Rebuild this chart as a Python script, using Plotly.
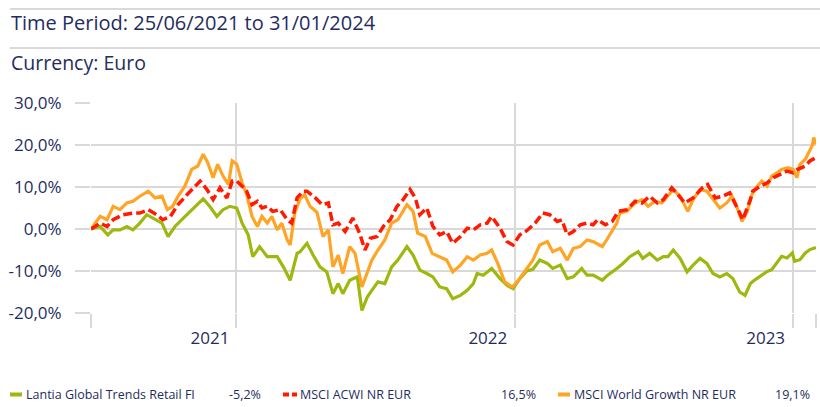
import pandas as pd
import plotly.graph_objects as go

START = "2021-06-25"

# ---- data (day offsets from start, cumulative return in %) ----
green_days = [0, 12, 22, 29, 38, 47, 55, 64, 73, 86, 93, 101, 110, 121, 134, 147, 156, 165, 173, 182,
              191, 198, 206, 212, 221, 231, 244, 252, 261, 270, 274, 283, 291, 300, 309, 317, 324, 330, 339, 349,
              355, 362, 368, 376, 385, 394, 402, 414, 422, 431, 440, 448, 457, 466, 474, 484, 493, 501, 506, 514,
              525, 536, 545, 553, 562, 571, 579, 588, 598, 605, 615, 624, 632, 643, 650, 658, 670, 677, 689, 697,
              706, 717, 723, 732, 742, 750, 756, 763, 772, 781, 789, 798, 807, 815, 824, 833, 841, 850, 857, 864,
              870, 879, 886, 892, 899, 905, 912, 919, 922, 929, 936, 942, 950]
green_vals = [0, 0.6, -1.4, -0.2, -0.2, 0.6, -0.2, 1.4, 3.4, 2.2, 1.4, -1.8, 0.6, 2.6, 5.0, 7.2, 5.3, 3.0, 4.6, 5.4,
              5.0, 1.4, -1.4, -6.6, -4.2, -6.6, -6.6, -9.0, -12.2, -5.8, -5.4, -3.4, -6.2, -9.0, -10.2, -15.4, -13.0, -15.4, -12.2, -11.4,
              -19.4, -16.2, -14.6, -12.6, -13.0, -9.0, -7.4, -4.2, -6.2, -9.8, -10.6, -11.4, -13.8, -14.2, -16.6, -15.8, -14.6, -13.0, -10.6, -11.0,
              -9.4, -11.8, -13.4, -14.2, -11.8, -10.0, -9.6, -7.4, -8.2, -9.4, -8.6, -11.8, -11.4, -9.4, -11.0, -11.0, -12.2, -11.0, -9.4, -8.2,
              -6.6, -5.4, -7.0, -5.8, -7.4, -6.6, -6.6, -5.0, -7.0, -10.2, -8.6, -7.0, -8.2, -10.6, -11.4, -10.6, -11.8, -15.0, -15.8, -13.0,
              -12.1, -10.9, -10.1, -9.7, -8.1, -6.5, -6.9, -5.7, -7.7, -7.3, -5.7, -4.9, -4.4]

orange_days = [0, 12, 21, 29, 38, 47, 55, 64, 75, 84, 93, 100, 107, 114, 123, 132, 140, 147, 153, 160,
               166, 173, 180, 185, 191, 198, 204, 211, 218, 224, 231, 237, 244, 250, 257, 261, 267, 274, 280, 287,
               296, 304, 311, 317, 324, 330, 339, 346, 355, 362, 368, 376, 385, 394, 402, 414, 422, 428, 438, 447,
               457, 466, 474, 484, 493, 501, 510, 519, 525, 533, 542, 552, 560, 565, 571, 579, 588, 598, 605, 615,
               624, 632, 641, 650, 658, 670, 677, 689, 693, 702, 713, 722, 730, 739, 748, 756, 763, 772, 782, 789,
               798, 807, 815, 824, 833, 840, 846, 853, 860, 866, 873, 879, 886, 892, 899, 905, 913, 920, 925, 929,
               936, 940, 945, 947, 950]
orange_vals = [0, 3.0, 2.2, 5.4, 4.6, 6.2, 6.6, 7.8, 9.0, 7.4, 7.8, 4.6, 5.4, 7.8, 10.2, 14.2, 15.0, 17.8, 15.8, 12.2,
               15.4, 12.6, 10.6, 16.2, 15.4, 11.0, 8.2, 3.0, 0.6, 3.0, 1.4, 3.0, -0.2, 1.4, -2.6, -3.8, 3.8, 7.2, 8.2, 5.4,
               4.0, -1.8, -0.2, -9.0, -6.2, -10.6, -4.2, -5.8, -13.8, -10.6, -7.4, -5.0, -2.6, 1.4, 2.2, 5.8, 4.2, -1.0, -1.8, -5.8,
               -6.6, -7.4, -10.2, -8.6, -6.6, -7.4, -6.2, -5.8, -5.0, -8.2, -12.6, -13.8, -12.2, -11.0, -9.4, -7.4, -3.8, -3.0, -5.4, -4.6,
               -7.4, -4.6, -4.2, -2.6, -3.0, -4.2, -2.2, 1.4, 3.8, 4.2, 6.2, 7.0, 5.4, 6.6, 6.2, 7.8, 9.4, 7.8, 4.2, 7.0,
               9.4, 9.0, 7.0, 5.0, 6.2, 7.8, 5.4, 1.8, 4.2, 8.2, 10.2, 11.4, 10.2, 12.6, 13.4, 14.2, 14.6, 14.2, 12.2, 15.4,
               16.6, 18.2, 19.8, 21.8, 20.2]

red_days = [0, 12, 21, 29, 42, 55, 64, 75, 86, 94, 104, 114, 126, 134, 143, 152, 160, 169, 178, 185,
            191, 198, 204, 211, 218, 224, 231, 238, 248, 257, 263, 270, 278, 283, 294, 303, 311, 317, 324, 333,
            343, 352, 359, 366, 375, 383, 392, 401, 409, 418, 425, 431, 440, 448, 457, 466, 474, 484, 493, 501,
            510, 519, 525, 536, 545, 553, 562, 571, 582, 592, 601, 611, 617, 624, 632, 641, 650, 658, 664, 674,
            683, 691, 702, 713, 722, 732, 742, 750, 761, 769, 778, 789, 801, 808, 818, 828, 837, 848, 854, 864,
            867, 877, 886, 894, 903, 912, 920, 926, 936, 942, 950]
red_vals = [0, 1.4, 0.6, 2.2, 3.4, 3.8, 3.8, 4.6, 3.4, 2.2, 3.0, 5.8, 8.2, 9.8, 11.4, 9.4, 7.0, 9.8, 7.4, 11.4,
            11.4, 10.2, 9.0, 5.8, 6.6, 5.0, 5.4, 4.2, 4.6, 2.2, 1.4, 7.4, 9.0, 9.0, 7.4, 5.8, 6.2, 1.0, 1.4, -0.6,
            2.6, -1.0, -5.0, -2.2, -1.8, 0.6, 2.2, 5.4, 7.0, 9.4, 7.4, 3.4, 5.0, 0.6, -1.4, -0.6, -3.4, -1.8, 0.2, -0.2,
            1.0, 1.4, 3.0, 0.2, -3.0, -3.8, -1.4, -0.4, 1.4, 3.8, 3.4, 1.8, 2.2, -1.4, -0.6, 1.0, 1.4, 1.0, 2.2, 1.0,
            1.8, 4.2, 4.6, 6.6, 6.2, 7.8, 6.2, 7.0, 9.8, 8.2, 6.2, 7.4, 9.8, 10.6, 7.4, 7.8, 8.6, 4.6, 2.2, 7.0,
            9.0, 10.2, 11.0, 12.2, 13.0, 13.8, 13.4, 14.2, 15.0, 16.2, 17.0]

series_names = ["Lantia Global Trends Retail FI", "MSCI ACWI NR EUR", "MSCI World Growth NR EUR"]
series_final = ["-5,2%", "16,5%", "19,1%"]
y_ticks = [-20, -10, 0, 10, 20, 30]
y_ticktext = ["-20,0%", "-10,0%", "0,0%", "10,0%", "20,0%", "30,0%"]
grid_dates = ["2021-06-25", "2022-01-01", "2023-01-01", "2024-01-01", "2024-01-31"]
label_dates = ["2021-11-28", "2022-11-27", "2023-11-26"]
label_text = ["2021", "2022", "2023"]

GREEN = "#9db80f"
ORANGE = "#ffa424"
RED = "#ff1a00"
NAVY = "#1f2d5e"
GRID = "#d9d9d9"
FONT = "Open Sans"

start = pd.Timestamp(START)


def to_dates(days):
    return start + pd.to_timedelta(days, unit="D")


# plot area in pixels
W, H = 820, 407
L, R, T, B = 91, 816, 103, 313


def px(x):
    return (x - L) / (R - L)


def py(y):
    return (B - y) / (B - T)


fig = go.Figure()
fig.add_trace(go.Scatter(x=to_dates(green_days), y=green_vals, mode="lines",
                         line=dict(color=GREEN, width=3.2), name=series_names[0]))
fig.add_trace(go.Scatter(x=to_dates(orange_days), y=orange_vals, mode="lines",
                         line=dict(color=ORANGE, width=3.2), name=series_names[2]))
fig.add_trace(go.Scatter(x=to_dates(red_days), y=red_vals, mode="lines",
                         line=dict(color=RED, width=3.5, dash="9px,4px"), name=series_names[1]))

fig.update_layout(
    width=W, height=H,
    margin=dict(l=L, r=W - R, t=T, b=H - B),
    paper_bgcolor="white", plot_bgcolor="white",
    showlegend=False,
    font=dict(family=FONT, color=NAVY),
)

fig.update_xaxes(
    type="date",
    range=[to_dates([0])[0], to_dates([950])[0]],
    tickvals=label_dates, ticktext=label_text,
    ticks="", showgrid=False, zeroline=False, showline=False,
    tickfont=dict(size=17, color=NAVY, family=FONT),
    ticklabelstandoff=13,
    minor=dict(tickvals=grid_dates, ticks="outside", ticklen=14, tickwidth=2, tickcolor=GRID,
               showgrid=True, gridcolor=GRID, gridwidth=2),
)
fig.update_yaxes(
    range=[-20, 30],
    tickvals=y_ticks, ticktext=y_ticktext,
    ticks="outside", ticklen=15, tickwidth=2, tickcolor=GRID,
    showgrid=True, gridcolor=GRID, gridwidth=2,
    zeroline=False, showline=False,
    tickfont=dict(size=17, color=NAVY, family=FONT),
    ticklabelstandoff=10,
)

# header
shapes = []
for yline in (9, 48):
    shapes.append(dict(type="line", xref="paper", yref="paper", x0=px(10), x1=px(820),
                       y0=py(yline), y1=py(yline), line=dict(color=GRID, width=2)))

annotations = [
    dict(text="Time Period: 25/06/2021 to 31/01/2024", x=px(9), y=py(22.5), xref="paper", yref="paper",
         xanchor="left", yanchor="middle", showarrow=False, font=dict(size=20, color=NAVY, family=FONT)),
    dict(text="Currency: Euro", x=px(9), y=py(62.5), xref="paper", yref="paper",
         xanchor="left", yanchor="middle", showarrow=False, font=dict(size=19.5, color=NAVY, family=FONT)),
]

# legend
leg_y = py(394)
leg_items = [
    (10, 22, GREEN, None, 24, series_names[0], 263, series_final[0]),
    (283, 297, RED, "6px,3px", 298, series_names[1], 538, series_final[1]),
    (558, 570, ORANGE, None, 572, series_names[2], 812, series_final[2]),
]
for x0, x1, col, dash, tx, name, vx, val in leg_items:
    line = dict(color=col, width=4)
    if dash:
        line["dash"] = dash
    shapes.append(dict(type="line", xref="paper", yref="paper", x0=px(x0), x1=px(x1),
                       y0=py(394.5), y1=py(394.5), line=line))
    annotations.append(dict(text=name, x=px(tx), y=leg_y, xref="paper", yref="paper",
                            xanchor="left", yanchor="middle", showarrow=False,
                            font=dict(size=12.5, color=NAVY, family=FONT)))
    annotations.append(dict(text=val, x=px(vx), y=leg_y, xref="paper", yref="paper",
                            xanchor="right", yanchor="middle", showarrow=False,
                            font=dict(size=12.5, color=NAVY, family=FONT)))

fig.update_layout(shapes=shapes, annotations=annotations)

fig.write_html("out.html")
